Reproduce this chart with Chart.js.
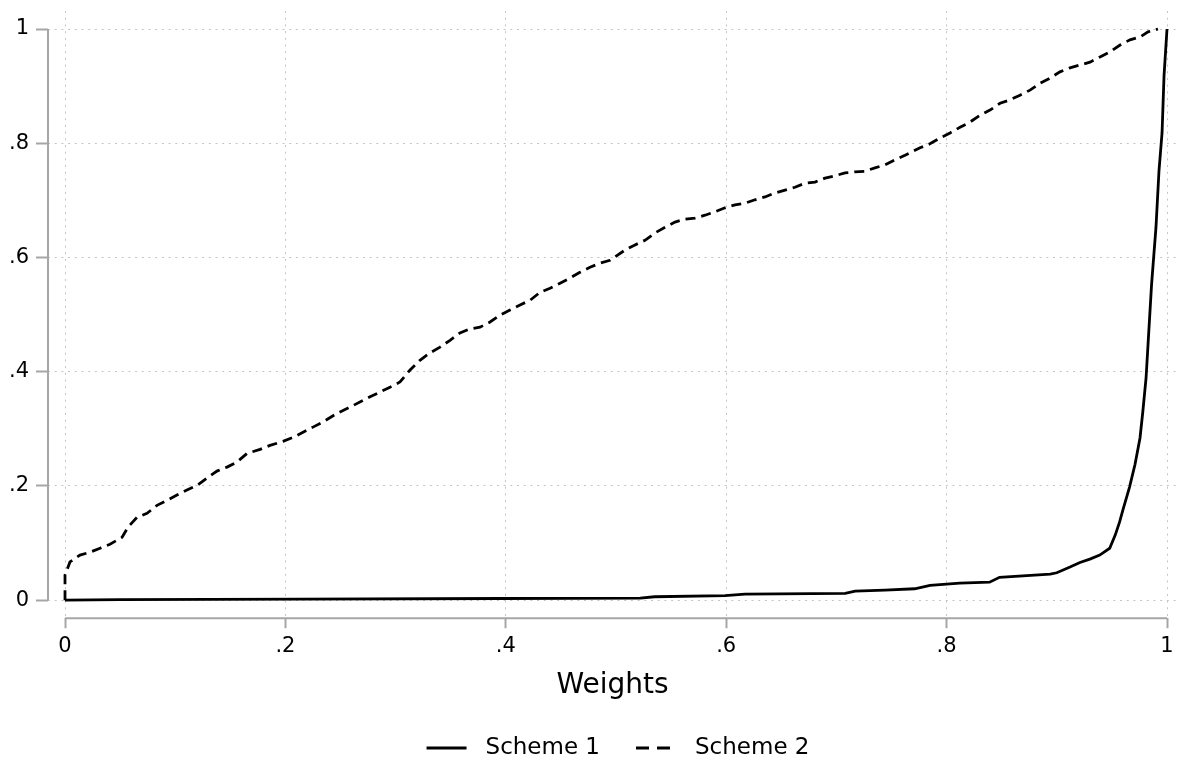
<!DOCTYPE html>
<html>
<head>
<meta charset="utf-8">
<script src="https://cdn.jsdelivr.net/npm/chart.js@4.4.1/dist/chart.umd.min.js"></script>
<style>
  body { margin: 0; background: #fff; }
  #wrap { width: 1177px; height: 764px; }
</style>
</head>
<body>
<div id="wrap"><canvas id="chart" width="1177" height="764"></canvas></div>
<script>
// values
const scheme1X = [0, 0.05, 0.213, 0.395, 0.522, 0.535, 0.599, 0.617, 0.708, 0.717, 0.744, 0.771, 0.785, 0.812,
    0.839, 0.848, 0.894, 0.9, 0.912, 0.921, 0.93, 0.939, 0.948, 0.953, 0.957, 0.96, 0.966, 0.971, 0.9755,
    0.978, 0.981, 0.983, 0.986, 0.99, 0.9927, 0.9955, 0.9973, 1];
const scheme1Y = [0, 0.001, 0.002, 0.003, 0.0035, 0.006, 0.008, 0.0105, 0.012, 0.016, 0.0175, 0.02, 0.026, 0.03,
    0.0315, 0.04, 0.0455, 0.048, 0.058, 0.066, 0.072, 0.079, 0.091, 0.114, 0.137, 0.158, 0.198, 0.238, 0.284,
    0.329, 0.389, 0.455, 0.553, 0.653, 0.751, 0.818, 0.918, 1];

const scheme2X = [0, 0, 0.0045, 0.0136, 0.0227, 0.0318, 0.0408, 0.0517, 0.0572, 0.0653, 0.0744, 0.0835, 0.0926,
    0.1016, 0.1107, 0.1198, 0.1289, 0.1379, 0.147, 0.1561, 0.1652, 0.177, 0.186, 0.1978, 0.2069, 0.216, 0.225,
    0.2341, 0.2468, 0.2586, 0.2768, 0.2949, 0.304, 0.3131, 0.3221, 0.3312, 0.3403, 0.3494, 0.3584, 0.3675,
    0.3766, 0.3857, 0.3947, 0.4038, 0.4129, 0.422, 0.431, 0.4401, 0.4492, 0.4583, 0.4673, 0.4764, 0.4855,
    0.4946, 0.5082, 0.5172, 0.5263, 0.5354, 0.5445, 0.5535, 0.5626, 0.5717, 0.5808, 0.5898, 0.5989, 0.608,
    0.6171, 0.6261, 0.6352, 0.6443, 0.6534, 0.6624, 0.6715, 0.6806, 0.6897, 0.6987, 0.7078, 0.7169, 0.726,
    0.735, 0.7441, 0.7532, 0.7623, 0.7759, 0.7849, 0.794, 0.8031, 0.8122, 0.8212, 0.8303, 0.8394, 0.8485,
    0.8575, 0.8666, 0.8757, 0.8848, 0.8938, 0.9029, 0.912, 0.9211, 0.9301, 0.9392, 0.9483, 0.9574, 0.9664,
    0.9755, 0.9828, 0.9918, 1];
const scheme2Y = [0, 0.044, 0.067, 0.079, 0.084, 0.091, 0.098, 0.11, 0.128, 0.145, 0.152, 0.166, 0.175,
    0.184, 0.193, 0.201, 0.214, 0.226, 0.233, 0.242, 0.257, 0.264, 0.271, 0.278, 0.285, 0.294, 0.303,
    0.312, 0.327, 0.338, 0.356, 0.373, 0.382, 0.403, 0.42, 0.433, 0.443, 0.455, 0.468, 0.475,
    0.478, 0.487, 0.499, 0.508, 0.517, 0.525, 0.539, 0.546, 0.555, 0.564, 0.574, 0.583, 0.59,
    0.595, 0.613, 0.622, 0.63, 0.643, 0.653, 0.662, 0.667, 0.669, 0.674, 0.68, 0.687, 0.692,
    0.695, 0.701, 0.706, 0.713, 0.718, 0.723, 0.73, 0.732, 0.739, 0.743, 0.748, 0.75, 0.751,
    0.757, 0.762, 0.771, 0.779, 0.792, 0.799, 0.809, 0.818, 0.828, 0.837, 0.849, 0.858, 0.87,
    0.876, 0.884, 0.893, 0.905, 0.914, 0.925, 0.932, 0.937, 0.942, 0.951, 0.96, 0.972,
    0.981, 0.986, 0.995, 1];

const tickValues = [0, 0.2, 0.4, 0.6, 0.8, 1];
const tickLabels = ["0", ".2", ".4", ".6", ".8", "1"];

const toPoints = (xs, ys) => xs.map((x, i) => ({x: x, y: ys[i]}));

const axisGrey = "#a6a6a6";
const gridGrey = "#c4c4c4";
const lineW = 2.8;

// stata-style axis lines, drawn only over the 0..1 range
const axisLines = {
    id: "axisLines",
    beforeDatasetsDraw(chart) {
        const {ctx, chartArea, scales} = chart;
        ctx.save();
        ctx.strokeStyle = axisGrey;
        ctx.lineWidth = 2;
        ctx.beginPath();
        ctx.moveTo(chartArea.left, scales.y.getPixelForValue(1));
        ctx.lineTo(chartArea.left, scales.y.getPixelForValue(0));
        ctx.moveTo(scales.x.getPixelForValue(0), chartArea.bottom);
        ctx.lineTo(scales.x.getPixelForValue(1), chartArea.bottom);
        ctx.stroke();
        ctx.restore();
    }
};

// legend under the axis title, line samples with a wider gap than the built-in one
const bottomLegend = {
    id: "bottomLegend",
    afterDraw(chart) {
        const ctx = chart.ctx;
        const sample = 40, gap = 19, spacing = 36;
        ctx.save();
        ctx.font = "23px 'DejaVu Sans'";
        const items = chart.data.datasets.map(ds => ({ds: ds, w: ctx.measureText(ds.label).width}));
        const total = items.reduce((s, it) => s + sample + gap + it.w, 0) + spacing * (items.length - 1);
        let x = chart.scales.x.getPixelForValue(0.5) + 2 - total / 2;
        const y = chart.height - 16;
        items.forEach(it => {
            ctx.strokeStyle = it.ds.borderColor;
            ctx.lineWidth = lineW;
            ctx.setLineDash(it.ds.borderDash ? [13, 8] : []);
            ctx.beginPath();
            ctx.moveTo(x, y);
            ctx.lineTo(x + sample, y);
            ctx.stroke();
            ctx.fillStyle = "#000";
            ctx.textBaseline = "middle";
            ctx.fillText(it.ds.label, x + sample + gap, y);
            x += sample + gap + it.w + spacing;
        });
        ctx.restore();
    }
};

const setTicks = (scale) => {
    scale.ticks = tickValues.map(v => ({value: v}));
};
const tickLabel = (value) => tickLabels[tickValues.indexOf(value)];

new Chart(document.getElementById("chart"), {
    type: "scatter",
    data: {
        datasets: [
            {
                label: "Scheme 1",
                data: toPoints(scheme1X, scheme1Y),
                showLine: true,
                borderColor: "#000000",
                backgroundColor: "#000000",
                borderWidth: lineW,
                pointRadius: 0
            },
            {
                label: "Scheme 2",
                data: toPoints(scheme2X, scheme2Y),
                showLine: true,
                borderColor: "#000000",
                backgroundColor: "#000000",
                borderWidth: lineW,
                borderDash: [10, 6],
                pointRadius: 0
            }
        ]
    },
    options: {
        responsive: false,
        animation: false,
        layout: {padding: {top: 11, right: 0, left: 0, bottom: 51}},
        scales: {
            x: {
                type: "linear",
                min: -0.01543,
                max: 1.00907,
                afterBuildTicks: setTicks,
                afterFit(scale) { scale.paddingLeft = 0; scale.paddingRight = 0; },
                grid: {color: gridGrey, lineWidth: 1, tickColor: axisGrey, tickWidth: 2, tickLength: 10, tickBorderDash: [100, 0]},
                border: {display: false, dash: [2, 4.7]},
                ticks: {
                    callback: tickLabel,
                    color: "#000",
                    padding: 6,
                    maxRotation: 0,
                    font: {family: "DejaVu Sans", size: 21}
                },
                title: {
                    display: true,
                    text: "Weights",
                    color: "#000",
                    font: {family: "DejaVu Sans", size: 28},
                    padding: {top: 4, bottom: 10}
                }
            },
            y: {
                type: "linear",
                min: -0.03152,
                max: 1.03152,
                afterBuildTicks: setTicks,
                afterFit(scale) { scale.width = 48; scale.paddingTop = 0; scale.paddingBottom = 0; },
                grid: {color: gridGrey, lineWidth: 1, tickColor: axisGrey, tickWidth: 2, tickLength: 12, tickBorderDash: [100, 0]},
                border: {display: false, dash: [2, 4.7]},
                ticks: {
                    callback: tickLabel,
                    color: "#000",
                    padding: 7,
                    font: {family: "DejaVu Sans", size: 21}
                }
            }
        },
        plugins: {
            legend: {display: false},
            tooltip: {enabled: false}
        }
    },
    plugins: [axisLines, bottomLegend]
});
</script>
</body>
</html>
